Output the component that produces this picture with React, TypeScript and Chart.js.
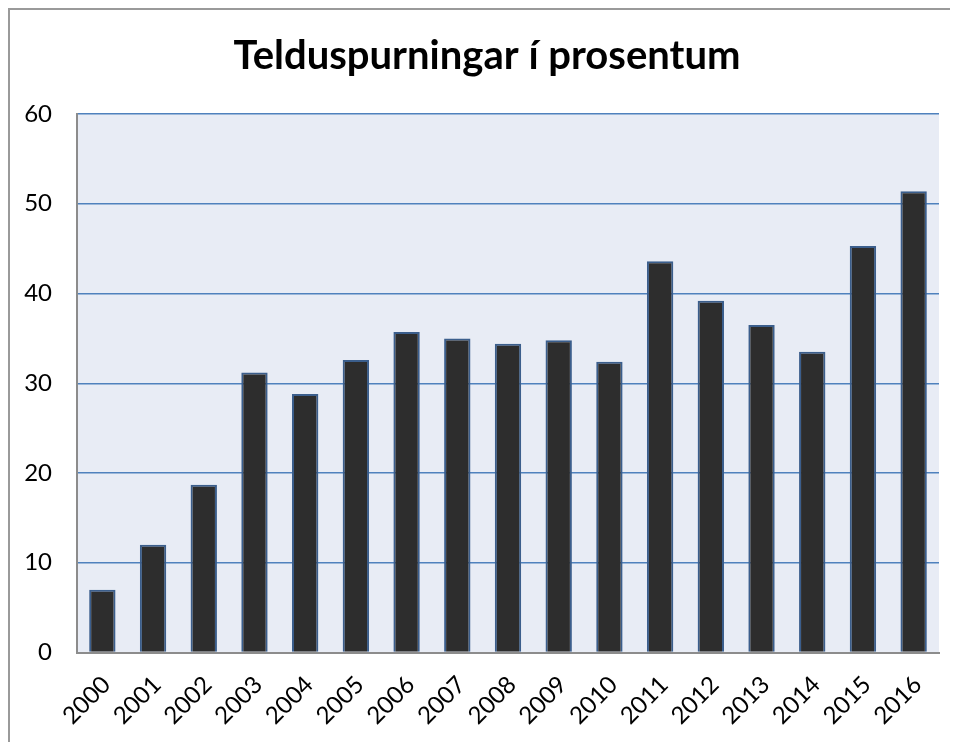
import React, { useEffect, useRef } from "react";
import { Chart, registerables } from "chart.js";

Chart.register(...registerables);

const titleText = "Telduspurningar í prosentum";
const years = ["2000", "2001", "2002", "2003", "2004", "2005", "2006", "2007", "2008", "2009", "2010", "2011", "2012", "2013", "2014", "2015", "2016"];
const percentages = [7.0, 12.0, 18.7, 31.2, 28.8, 32.6, 35.7, 35.0, 34.4, 34.8, 32.4, 43.6, 39.2, 36.5, 33.5, 45.3, 51.4];
const yMin = 0;
const yMax = 60;
const yStep = 10;

const plotBg = {
  id: "plotBg",
  beforeDraw(chart: any) {
    const { ctx, chartArea } = chart;
    if (!chartArea) return;
    ctx.save();
    ctx.fillStyle = "#E8ECF5";
    ctx.fillRect(chartArea.left, chartArea.top, chartArea.right - chartArea.left, chartArea.bottom - chartArea.top);
    ctx.restore();
  },
};

const titleDraw = {
  id: "titleDraw",
  afterDraw(chart: any) {
    const { ctx } = chart;
    ctx.save();
    ctx.fillStyle = "#000";
    ctx.font = "bold 40px Lato";
    ctx.textAlign = "center";
    ctx.textBaseline = "alphabetic";
    ctx.fillText(titleText, 477, 59);
    ctx.restore();
  },
};

export default function App() {
  const ref = useRef<HTMLCanvasElement | null>(null);
  useEffect(() => {
    if (!ref.current) return;
    const chart = new Chart(ref.current, {
      type: "bar",
      data: {
        labels: years,
        datasets: [
          {
            data: percentages,
            backgroundColor: "#2D2D2D",
            borderColor: "#3B5E8C",
            borderWidth: 2,
            barPercentage: 0.52,
            categoryPercentage: 1,
          },
        ],
      },
      options: {
        animation: false,
        responsive: false,
        maintainAspectRatio: false,
        layout: { padding: { left: 0, right: 19, top: 104, bottom: 0 } },
        plugins: {
          legend: { display: false },
          tooltip: { enabled: false },
          title: { display: false },
        },
        scales: {
          x: {
            grid: { display: false, drawTicks: false },
            border: { display: true, color: "#8C8C8C", width: 2 },
            ticks: {
              color: "#000",
              font: { family: "Lato", size: 24 },
              maxRotation: 45,
              minRotation: 45,
              autoSkip: false,
              padding: 18,
              labelOffset: 4,
            },
            afterFit(scale: any) {
              scale.height = 89.5;
            },
          },
          y: {
            min: yMin,
            max: yMax,
            grid: { color: "#4F81BD", lineWidth: 1.5, drawTicks: false },
            border: { display: true, color: "#8C8C8C", width: 2 },
            ticks: {
              stepSize: yStep,
              color: "#000",
              font: { family: "Lato", size: 24 },
              padding: 25,
            },
            afterFit(scale: any) {
              scale.width = 67;
            },
          },
        },
      },
      plugins: [plotBg, titleDraw],
    });
    return () => chart.destroy();
  }, []);

  return (
    <div
      style={{
        position: "relative",
        width: 950,
        height: 734,
        borderLeft: "2px solid #9A9A9A",
        borderTop: "2px solid #9A9A9A",
        boxSizing: "border-box",
      }}
    >
      <canvas ref={ref} width={948} height={732} style={{ position: "absolute", left: 0, top: 0, width: 948, height: 732 }} />
    </div>
  );
}
